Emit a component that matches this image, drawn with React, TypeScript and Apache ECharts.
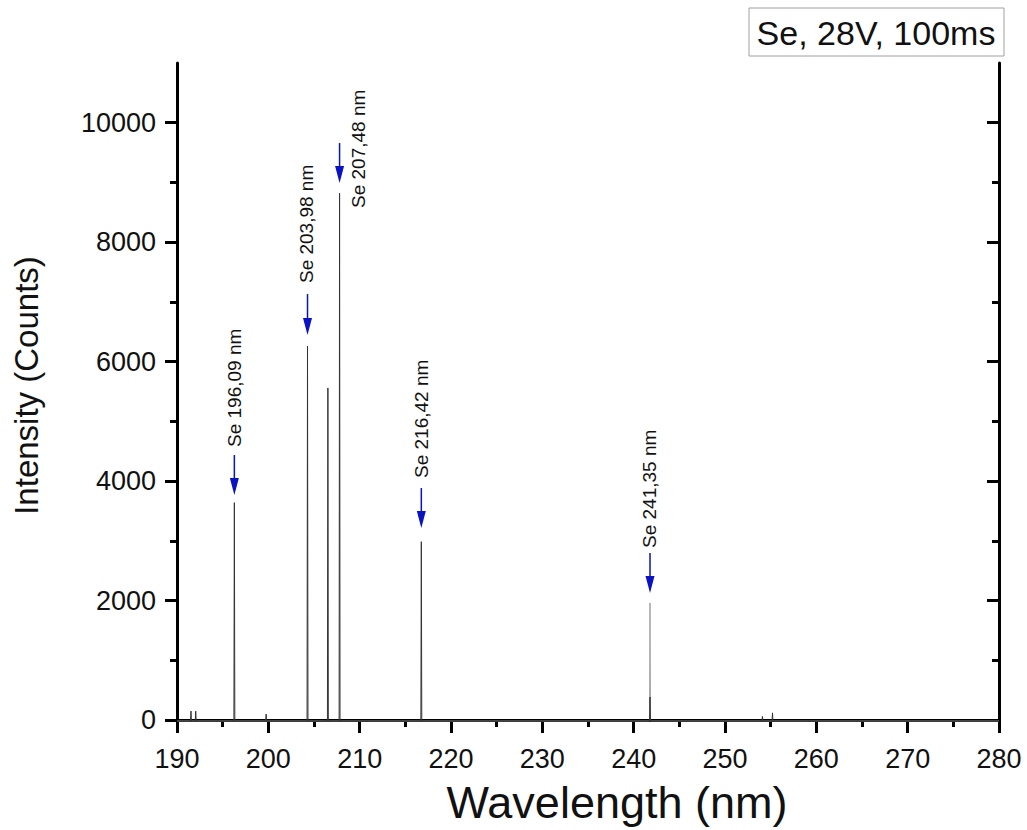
import React, { useEffect, useRef } from "react";
import * as echarts from "echarts";

// ---- data ----
const peakWavelengths = [191.53, 192.05, 196.28, 199.76, 204.29, 206.52, 207.8, 216.75, 241.79, 254.1, 255.2];
const peakIntensities = [150, 150, 3640, 100, 6260, 5560, 8820, 2985, 385, 60, 120];
const thinPeakWavelengths = [241.79];
const thinPeakIntensities = [1960];
const baselineIntensity = -15;
const xRange = [190, 280];
const yRange = [-100, 11000];
const yMajorTicks = [0, 2000, 4000, 6000, 8000, 10000];
const yMinorTicks = [1000, 3000, 5000, 7000, 9000];

// annotations (arrow tip / top in data units, label anchor in data units)
const annotationTexts = ["Se 196,09 nm", "Se 203,98 nm", "Se 207,48 nm", "Se 216,42 nm", "Se 241,35 nm"];
const arrowWavelengths = [196.28, 204.29, 207.8, 216.75, 241.79];
const arrowTipIntensities = [3767, 6446, 8990, 3214, 2126];
const arrowTopIntensities = [4437, 7132, 9660, 3884, 2796];
const labelWavelengths = [196.25, 204.22, 209.84, 216.78, 241.72];
const labelIntensities = [4571, 7316, 8572, 4052, 2880];

const legendText = "Se, 28V, 100ms";

const FONT = "'Liberation Sans', Arial, sans-serif";
const BLUE = "#0a12c4";
const HALF = 0.05;

function buildSpectrum(ws: number[], hs: number[]): number[][] {
  const pts: number[][] = [[xRange[0], baselineIntensity]];
  ws.forEach((w, i) => {
    pts.push([w - HALF, baselineIntensity]);
    pts.push([w, hs[i]]);
    pts.push([w + HALF, baselineIntensity]);
  });
  pts.push([xRange[1], baselineIntensity]);
  return pts;
}

export default function App() {
  const ref = useRef<HTMLDivElement>(null);
  useEffect(() => {
    document.body.style.margin = "0";
    const chart = echarts.init(ref.current!, null, { renderer: "svg" });
    const axisLine = { show: true, lineStyle: { color: "#000", width: 3 } };
    const option: any = {
      animation: false,
      backgroundColor: "#fff",
      grid: { left: 177, right: 28, top: 63, bottom: 104, containLabel: false },
      xAxis: [
        {
          type: "value",
          position: "bottom",
          min: xRange[0],
          max: xRange[1],
          interval: 10,
          axisLine,
          axisTick: { show: true, length: 13, inside: false, lineStyle: { width: 3, color: "#000" } },
          minorTick: { show: true, splitNumber: 2, length: 7, lineStyle: { width: 3, color: "#000" } },
          axisLabel: { fontSize: 27, color: "#111", fontFamily: FONT, margin: 19, formatter: (v: number) => String(v) },
          splitLine: { show: false },
          name: "Wavelength (nm)",
          nameLocation: "middle",
          nameGap: 54,
          nameTextStyle: { fontSize: 45, color: "#111", fontFamily: FONT, padding: [0, 0, 0, 58] },
        },
        {
          type: "value",
          position: "top",
          min: xRange[0],
          max: xRange[1],
          interval: 10,
          axisLine,
          axisTick: { show: true, length: 13, inside: true, lineStyle: { width: 3, color: "#000" } },
          minorTick: { show: true, splitNumber: 2, length: 7, lineStyle: { width: 3, color: "#000" } },
          axisLabel: { show: false },
          splitLine: { show: false },
        },
      ],
      yAxis: [
        {
          type: "value",
          position: "left",
          min: yRange[0],
          max: yRange[1],
          axisLine,
          axisTick: { show: true, length: 12, inside: false, customValues: yMajorTicks, lineStyle: { width: 3, color: "#000" } },
          axisLabel: {
            fontSize: 27,
            color: "#111",
            fontFamily: FONT,
            margin: 21,
            customValues: yMajorTicks,
            formatter: (v: number) => String(v),
          },
          splitLine: { show: false },
          name: "Intensity (Counts)",
          nameLocation: "middle",
          nameGap: 134,
          nameRotate: 90,
          nameTextStyle: { fontSize: 33, color: "#111", fontFamily: FONT, padding: [0, 0, 0, 18] },
        },
        {
          type: "value",
          position: "left",
          min: yRange[0],
          max: yRange[1],
          axisLine: { show: false },
          axisTick: { show: true, length: 7, inside: false, customValues: yMinorTicks, lineStyle: { width: 3, color: "#000" } },
          axisLabel: { show: false },
          splitLine: { show: false },
        },
        {
          type: "value",
          position: "right",
          min: yRange[0],
          max: yRange[1],
          axisLine,
          axisTick: { show: true, length: 12, inside: true, customValues: yMajorTicks, lineStyle: { width: 3, color: "#000" } },
          axisLabel: { show: false },
          splitLine: { show: false },
        },
        {
          type: "value",
          position: "right",
          min: yRange[0],
          max: yRange[1],
          axisLine: { show: false },
          axisTick: { show: true, length: 7, inside: true, customValues: yMinorTicks, lineStyle: { width: 3, color: "#000" } },
          axisLabel: { show: false },
          splitLine: { show: false },
        },
      ],
      series: [
        {
          type: "line",
          name: "thin",
          xAxisIndex: 0,
          yAxisIndex: 0,
          data: buildSpectrum(thinPeakWavelengths, thinPeakIntensities),
          showSymbol: false,
          symbol: "none",
          lineStyle: { color: "#a0a0a0", width: 1 },
          z: 2,
        },
        {
          type: "line",
          name: "spectrum",
          xAxisIndex: 0,
          yAxisIndex: 0,
          data: buildSpectrum(peakWavelengths, peakIntensities),
          showSymbol: false,
          symbol: "none",
          lineStyle: { color: "#333", width: 1 },
          z: 3,
        },
      ],
    };
    chart.setOption(option);

    const conv = (x: number, y: number) =>
      chart.convertToPixel({ xAxisIndex: 0, yAxisIndex: 0 }, [x, y]) as number[];
    const graphics: any[] = [];
    annotationTexts.forEach((t, i) => {
      const tip = conv(arrowWavelengths[i], arrowTipIntensities[i]);
      const top = conv(arrowWavelengths[i], arrowTopIntensities[i]);
      const headLen = 17;
      graphics.push({
        type: "line",
        shape: { x1: top[0], y1: top[1], x2: tip[0], y2: tip[1] - headLen },
        style: { stroke: BLUE, lineWidth: 1.5 },
        z: 10,
      });
      graphics.push({
        type: "polygon",
        shape: { points: [[tip[0] - 4.5, tip[1] - headLen], [tip[0] + 4.5, tip[1] - headLen], [tip[0], tip[1]]] },
        style: { fill: BLUE },
        z: 10,
      });
      const lp = conv(labelWavelengths[i], labelIntensities[i]);
      graphics.push({
        type: "text",
        x: lp[0],
        y: lp[1],
        rotation: Math.PI / 2,
        style: {
          text: t,
          fill: "#111",
          font: `19px ${FONT}`,
          align: "left",
          verticalAlign: "middle",
        },
        z: 10,
      });
    });
    graphics.push({
      type: "rect",
      shape: { x: 749, y: 8, width: 255, height: 48 },
      style: { fill: "#fff", stroke: "#a0a0a0", lineWidth: 1 },
      z: 10,
    });
    graphics.push({
      type: "text",
      x: 876,
      y: 33,
      style: {
        text: legendText,
        fill: "#111",
        font: `34px ${FONT}`,
        align: "center",
        verticalAlign: "middle",
      },
      z: 11,
    });
    chart.setOption({ graphic: graphics });

    return () => chart.dispose();
  }, []);
  return <div ref={ref} style={{ width: 1027, height: 830 }} />;
}
